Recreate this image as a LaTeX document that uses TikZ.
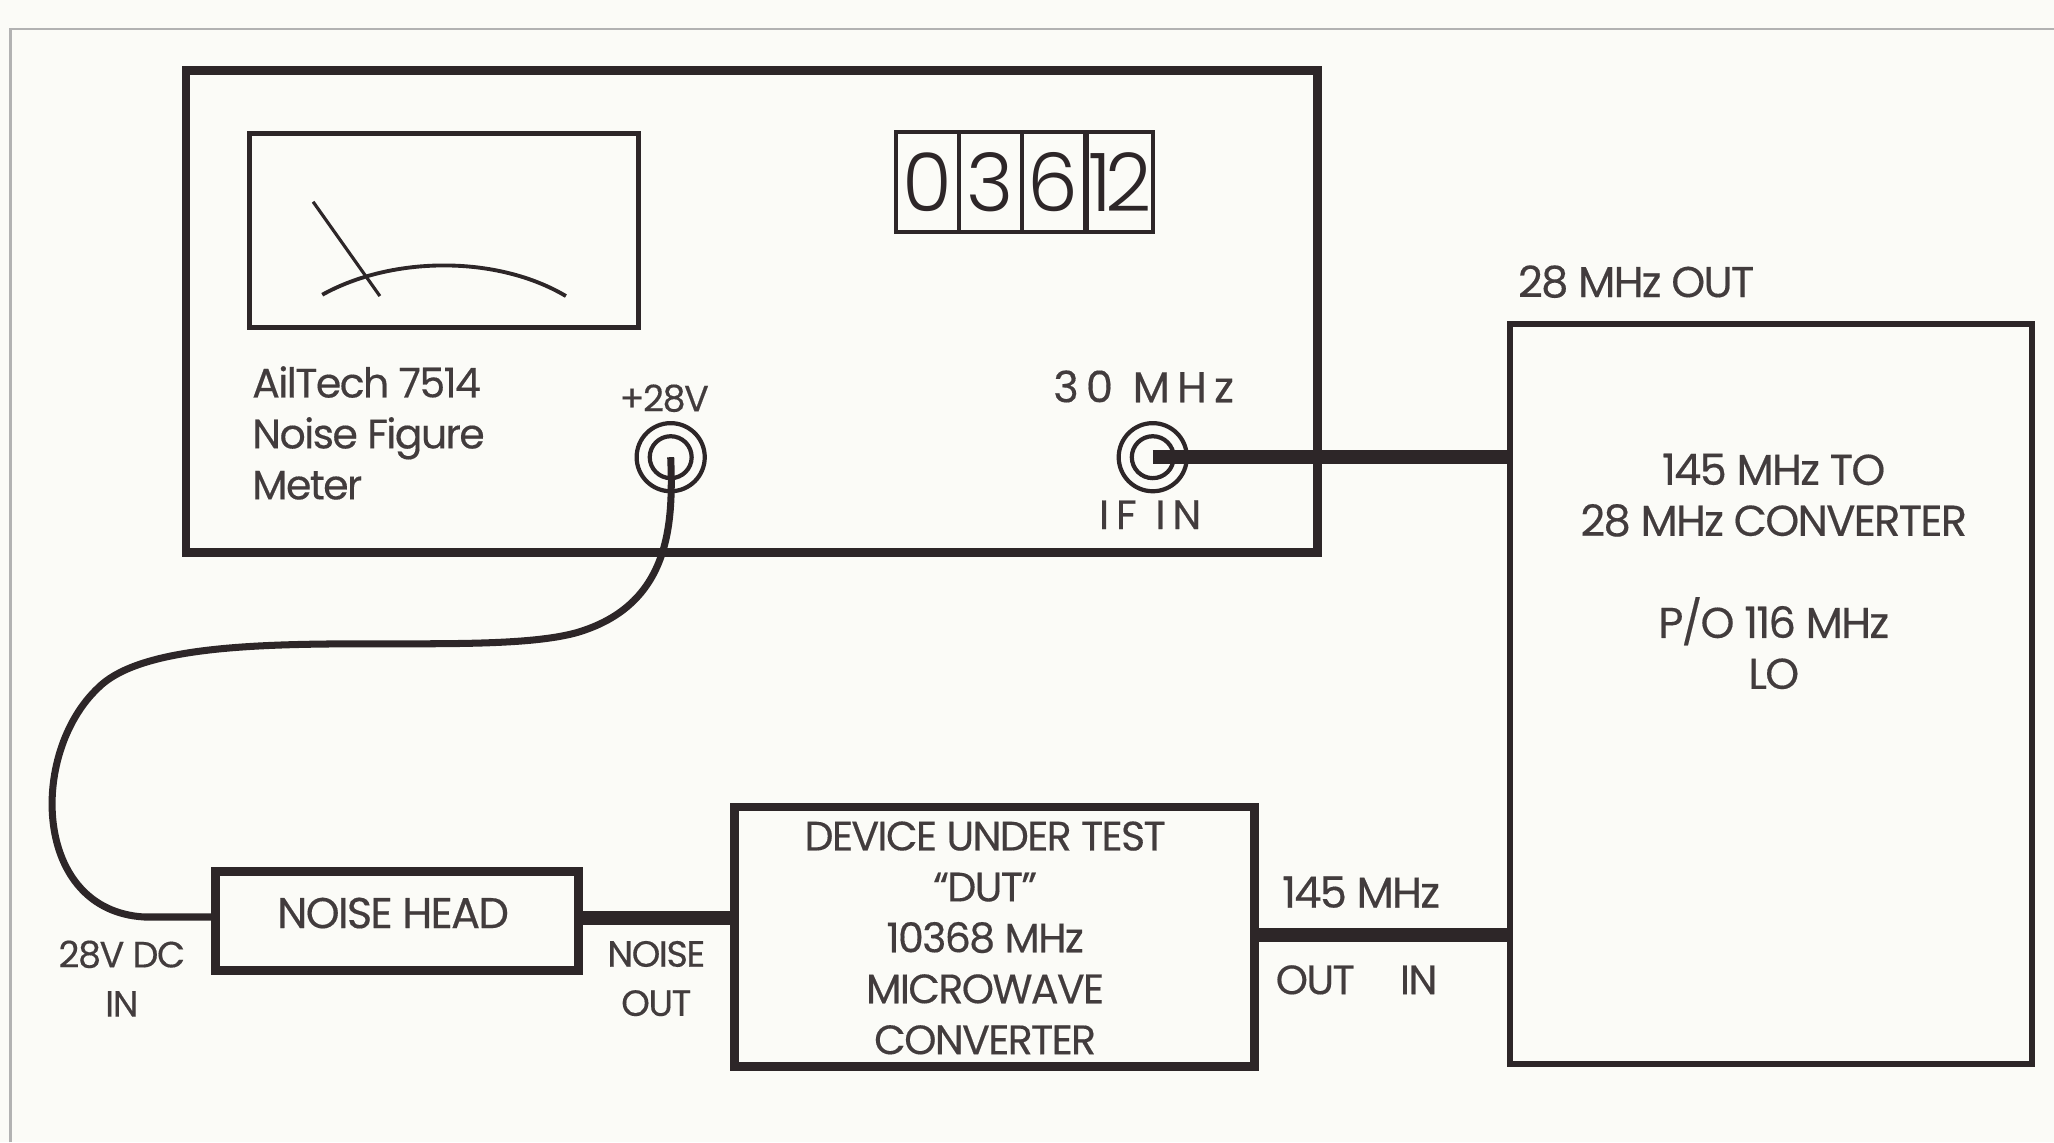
\documentclass[tikz,border=0pt]{standalone}
\usepackage{fontspec}
\setmainfont[LetterSpace=-4,FakeBold=0.35]{Poppins}
\newfontfamily\digitfont[LetterSpace=-2]{Poppins Light}
\begin{document}
\begin{tikzpicture}[x=0.0131cm,y=-0.0131cm]
	\tikzstyle{box}=[draw=ink,line width=2.5pt,inner sep=0pt]
	\tikzstyle{thin box}=[draw=ink,line width=1.1pt,inner sep=0pt]
	\tikzstyle{label}=[inner sep=0pt,align=center,font=\fontsize{12.3}{14.5}\selectfont,text=ink!90]
	\tikzstyle{mid label}=[label,font=\fontsize{11.7}{14.5}\selectfont]
	\tikzstyle{small label}=[label,font=\fontsize{10.4}{14}\selectfont]
	\tikzstyle{jack}=[circle,draw=ink,line width=1.2pt,inner sep=0pt]
	\tikzstyle{digit}=[thin box,minimum height=76*0.0131cm,font=\digitfont\fontsize{23}{23}\selectfont,text=ink]
	\tikzstyle{cable}=[draw=ink,line width=4pt]
	\definecolor{ink}{RGB}{45,38,40}
	\definecolor{paper}{RGB}{251,251,247}
	\useasboundingbox (0,0) rectangle (1568,872);
	\fill[paper] (0,0) rectangle (1568,872);
	\draw[black!30,line width=0.6pt] (8,872) -- (8,22) -- (1568,22);

	% meter
	\node[box,minimum width=864*0.0131cm,minimum height=368*0.0131cm] (meter) at (574,238) {};
	\node[thin box,line width=1.5pt,minimum width=297*0.0131cm,minimum height=148*0.0131cm] (dial) at (339,176) {};
	\draw[ink,line width=0.9pt] (239,154) -- (290,226);
	\draw[ink,line width=1.1pt] (246,225) .. controls (300,195) and (380,195) .. (432,226);
	\node[digit,minimum width=48*0.0131cm] (d0) at (708,139) {0};
	\node[digit,minimum width=48*0.0131cm] (d3) at (756,139) {3};
	\node[digit,minimum width=48*0.0131cm] (d6) at (804,139) {6};
	\node[digit,minimum width=50*0.0131cm] (d12) at (855,139) {\kern-3pt1\kern-2pt2\kern-3pt};
	\node[mid label,align=left,anchor=north west] (name) at (192,279) {AilTech 7514\\Noise Figure\\Meter};
	\node[small label] (plus) at (507,304) {+28V};
	\node[jack,minimum size=52*0.0131cm] (jackA) at (512,349) {};
	\node[jack,minimum size=32*0.0131cm] (jackAi) at (512,349) {};
	\node[label] (freq) at (873,295) {3\,0\ \ M\,H\,z};
	\node[jack,minimum size=52*0.0131cm] (jackB) at (880,349) {};
	\node[jack,minimum size=32*0.0131cm] (jackBi) at (880,349) {};
	\node[mid label] (ifin) at (878,393) {I\,F\ \ I\,N};

	% converter
	\node[box,line width=1.7pt,minimum width=398*0.0131cm,minimum height=565*0.0131cm] (conv) at (1352,530) {};
	\node[label] (out28) at (1249,215) {28 MHz OUT};
	\node[label] (convtext) at (1354,378) {145 MHz TO\\28 MHz CONVERTER};
	\node[label] (lotext) at (1354,491) {P/O 116 MHz\\LO};

	% bottom row
	\node[box,minimum width=277*0.0131cm,minimum height=76*0.0131cm] (head) at (303,703) {};
	\node[label] (headtext) at (300,697) {NOISE HEAD};
	\node[box,minimum width=397*0.0131cm,minimum height=198*0.0131cm] (dut) at (759,715) {};
	\node[mid label] (duttext) at (752,716) {DEVICE UNDER TEST\\``DUT''\\10368 MHz\\MICROWAVE\\CONVERTER};
	\node[small label] (dcin) at (93,747) {28V DC\\IN};
	\node[small label] (nout) at (501,747) {NOISE\\OUT};
	\node[label] (f145) at (1039,681) {145 MHz};
	\node[mid label] (oout) at (1004,748) {OUT};
	\node[mid label] (oin) at (1083,748) {IN};

	% cables
	\draw[cable] (jackB.center) -- (conv.west |- jackB);
	\draw[cable] (head.east |- 0,701) -- (dut.west |- 0,701);
	\draw[cable] (dut.east |- 0,714) -- (conv.west |- 0,714);
	\draw[cable,line width=2pt] (jackA.center) .. controls (514,400) and (512,462) .. (440,483)
		.. controls (360,505) and (130,470) .. (75,525)
		.. controls (22,575) and (25,695) .. (110,700) -- (head.west |- 0,700);
\end{tikzpicture}
\end{document}
